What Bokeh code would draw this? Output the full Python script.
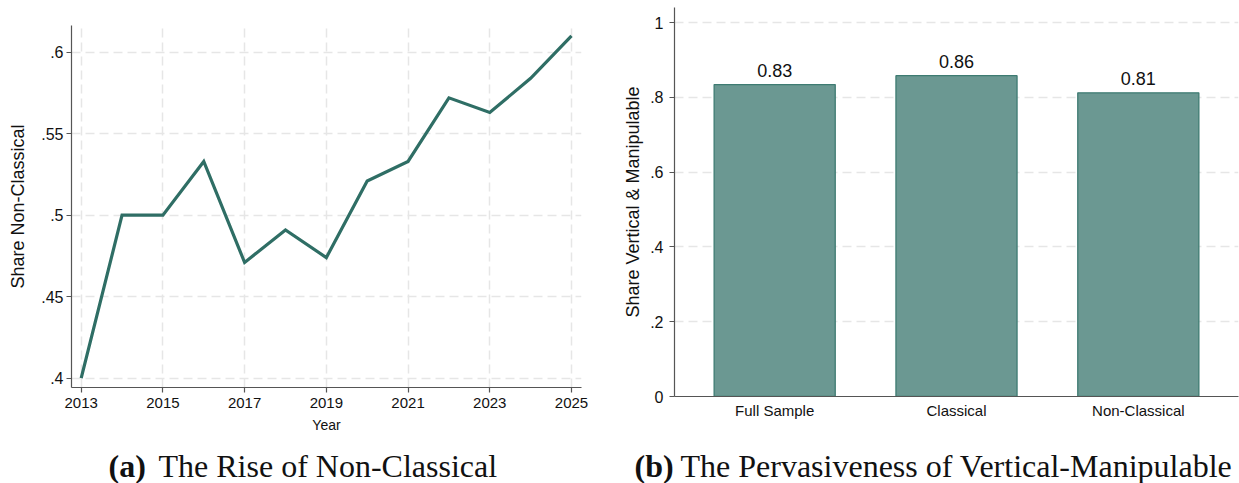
from bokeh.plotting import figure
from bokeh.models import Range1d, FixedTicker, Label
from bokeh.layouts import row, column
from bokeh.embed import file_html
from bokeh.resources import INLINE
from bokeh.core.properties import value

# ---------------- data ----------------
years = [2013, 2014, 2015, 2016, 2017, 2018, 2019, 2020, 2021, 2022, 2023, 2024, 2025]
share_nonclassical = [0.400, 0.500, 0.500, 0.533, 0.471, 0.491, 0.474, 0.521, 0.533, 0.572, 0.563, 0.584, 0.610]
x_ticks_a = [2013, 2015, 2017, 2019, 2021, 2023, 2025]
y_ticks_a = [0.4, 0.45, 0.5, 0.55, 0.6]
y_labels_a = [".4", ".45", ".5", ".55", ".6"]

groups = ["Full Sample", "Classical", "Non-Classical"]
share_vm = [0.834, 0.858, 0.812]
y_ticks_b = [0, 0.2, 0.4, 0.6, 0.8, 1]
y_labels_b = ["0", ".2", ".4", ".6", ".8", "1"]

caption_a = ["(a)", "The Rise of Non-Classical"]
caption_b = ["(b)", "The Pervasiveness of Vertical-Manipulable"]

# ---------------- style ----------------
LINE = "#2f6e65"
FILL = "#6b9892"
EDGE = "#3e7b72"
GRID = "#e6e6e6"
AXIS = "#555555"
TXT = "#111111"
SANS = "Liberation Sans"
SERIF = "Liberation Serif"


def style_axes(p):
    p.outline_line_color = None
    p.background_fill_color = "white"
    p.border_fill_color = "white"
    for ax in (p.xaxis[0], p.yaxis[0]):
        ax.axis_line_color = AXIS
        ax.axis_line_width = 1.2
        ax.major_tick_line_color = AXIS
        ax.major_tick_line_width = 1.2
        ax.major_tick_in = 0
        ax.major_tick_out = 5
        ax.minor_tick_line_color = None
        ax.major_label_text_font = SANS
        ax.major_label_text_color = TXT
        ax.axis_label_text_font = SANS
        ax.axis_label_text_font_style = "normal"
        ax.axis_label_text_color = TXT
    for g in (p.xgrid[0], p.ygrid[0]):
        g.grid_line_color = GRID
        g.grid_line_width = 1.5
        g.grid_line_dash = "9 5"


# ---------------- panel (a) ----------------
p1 = figure(width=620, height=436, output_backend="svg", toolbar_location=None,
            x_range=Range1d(2012.763, 2025.245), y_range=Range1d(0.3943, 0.6164),
            min_border_left=71, min_border_right=39, min_border_top=25, min_border_bottom=49)
style_axes(p1)
p1.xaxis.ticker = FixedTicker(ticks=x_ticks_a)
p1.xgrid.ticker = FixedTicker(ticks=x_ticks_a)
p1.yaxis.ticker = FixedTicker(ticks=y_ticks_a)
p1.ygrid.ticker = FixedTicker(ticks=y_ticks_a)
p1.yaxis.major_label_overrides = dict(zip(y_ticks_a, y_labels_a))
p1.xaxis.axis_label = "Year"
p1.yaxis.axis_label = "Share Non-Classical"
p1.xaxis.major_label_text_font_size = "15px"
p1.yaxis.major_label_text_font_size = "16px"
p1.xaxis.axis_label_text_font_size = "14px"
p1.yaxis.axis_label_text_font_size = "18px"
p1.xaxis.major_label_standoff = 5
p1.yaxis.major_label_standoff = 3
p1.xaxis.axis_label_standoff = 6
p1.yaxis.axis_label_standoff = 10
p1.line(years, share_nonclassical, line_color=LINE, line_width=3.2, line_join="miter")

# ---------------- panel (b) ----------------
idx = list(range(len(groups)))
p2 = figure(width=619, height=436, output_backend="svg", toolbar_location=None,
            x_range=Range1d(-0.551, 2.551), y_range=Range1d(0, 1.0402),
            min_border_left=54, min_border_right=1, min_border_top=7, min_border_bottom=40)
style_axes(p2)
p2.xgrid.visible = False
p2.xaxis.ticker = FixedTicker(ticks=idx)
p2.xaxis.major_label_overrides = dict(zip(idx, groups))
p2.xaxis.major_tick_out = 0
p2.xaxis.major_tick_line_color = None
p2.xaxis.major_label_standoff = 5
p2.yaxis.ticker = FixedTicker(ticks=y_ticks_b)
p2.ygrid.ticker = FixedTicker(ticks=[t for t in y_ticks_b if t > 0])
p2.yaxis.major_label_overrides = dict(zip(y_ticks_b, y_labels_b))
p2.yaxis.axis_label = "Share Vertical & Manipulable"
p2.xaxis.major_label_text_font_size = "15px"
p2.yaxis.major_label_text_font_size = "16px"
p2.yaxis.axis_label_text_font_size = "18px"
p2.yaxis.major_label_standoff = 6
p2.yaxis.axis_label_standoff = 4
p2.vbar(x=idx, top=share_vm, width=0.666, fill_color=FILL, line_color=EDGE, line_width=1.3)
p2.text(x=idx, y=share_vm, text=[f"{v:.2f}" for v in share_vm], text_align="center",
        text_baseline="bottom", y_offset=-8, text_font=value(SANS),
        text_font_size="18px", text_color=TXT)


# ---------------- captions ----------------
# each caption strip's x range is given in page pixels of the strip
def caption(width, x_lo, parts, x_bold, x_rest):
    c = figure(width=width, height=47, output_backend="svg", toolbar_location=None,
               x_range=Range1d(x_lo, x_lo + width), y_range=Range1d(0, 47),
               x_axis_type=None, y_axis_type=None, min_border=0)
    c.outline_line_color = None
    c.add_layout(Label(x=x_bold, y=18, text=parts[0], text_align="left",
                       text_baseline="alphabetic", text_font=SERIF, text_font_style="bold",
                       text_font_size="32px", text_color=TXT))
    c.add_layout(Label(x=x_rest, y=18, text=parts[1], text_align="left",
                       text_baseline="alphabetic", text_font=SERIF, text_font_style="normal",
                       text_font_size="32px", text_color=TXT))
    return c


c1 = caption(620, 0, caption_a, 108, 158)
c2 = caption(619, 620, caption_b, 634, 680)

layout = column(row(column(p1), column(p2)), row(c1, c2))
open("out.html", "w").write(file_html(layout, INLINE))
